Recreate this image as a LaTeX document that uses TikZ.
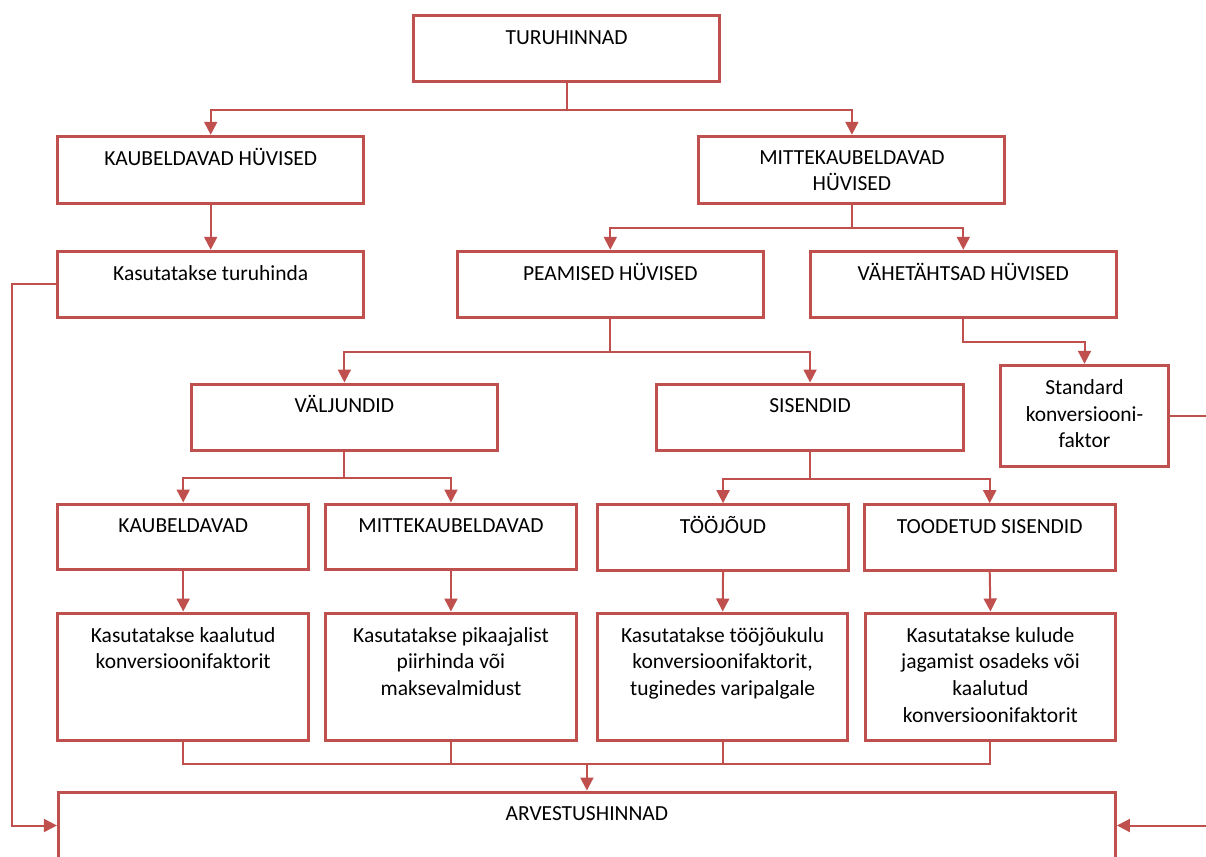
\documentclass[tikz,border=0pt]{standalone}
\usepackage{fontspec}
\setmainfont{Carlito}
\usetikzlibrary{arrows.meta}
\definecolor{boxred}{HTML}{C0504D}
\begin{document}
\begin{tikzpicture}[x=1pt,y=-1pt,
  box/.style={draw=boxred, line width=3pt, fill=white, inner sep=0pt, anchor=north west},
  txt/.style={anchor=north, yshift=-11.5pt, inner sep=0pt, align=center,
    font=\fontsize{21.5}{26.7}\selectfont, execute at begin node=\strut},
  txtm/.style={txt, yshift=-4pt},
  conn/.style={draw=boxred, line width=2pt},
  arr/.style={conn, -{Triangle[width=13pt,length=13pt]}}]
\useasboundingbox[fill=white] (0,0) rectangle (1206,856);

% boxes
\node[box, minimum width=306pt, minimum height=66pt] (tur) at (412.1,14.2) {};
\node[box, minimum width=306pt, minimum height=67pt] (kh) at (56.2,134.8) {};
\node[box, minimum width=306pt, minimum height=67pt] (mkh) at (697.4,134.8) {};
\node[box, minimum width=306pt, minimum height=66pt] (kt) at (56.2,249.8) {};
\node[box, minimum width=306pt, minimum height=66pt] (pea) at (455.8,249.8) {};
\node[box, minimum width=305.4pt, minimum height=66pt] (vah) at (809.1,249.8) {};
\node[box, minimum width=168.6pt, minimum height=100.7pt] (std) at (998.7,363.8) {};
\node[box, minimum width=306.2pt, minimum height=66.7pt] (val) at (189.8,382.5) {};
\node[box, minimum width=306.3pt, minimum height=66.7pt] (sis) at (655.4,382.5) {};
\node[box, minimum width=251pt, minimum height=65.3pt] (kau) at (56.2,502.5) {};
\node[box, minimum width=251.5pt, minimum height=65.3pt] (mit) at (323.7,502.5) {};
\node[box, minimum width=250.5pt, minimum height=65.3pt] (too) at (596.3,503.2) {};
\node[box, minimum width=250.6pt, minimum height=65.3pt] (tod) at (862.9,503.2) {};
\node[box, minimum width=251pt, minimum height=127.7pt] (l1) at (56.2,611.5) {};
\node[box, minimum width=251.5pt, minimum height=127.7pt] (l2) at (323.7,611.5) {};
\node[box, minimum width=249.7pt, minimum height=127.7pt] (l3) at (596.3,611.5) {};
\node[box, minimum width=250.5pt, minimum height=127.7pt] (l4) at (863.7,611.5) {};
\node[box, minimum width=1057pt, minimum height=67pt] (arv) at (56.9,790.5) {};

% texts
\node[txt] (turt) at (tur.north) {TURUHINNAD};
\node[txt] (kht) at (kh.north) {KAUBELDAVAD HÜVISED};
\node[txtm] (mkht) at (mkh.north) {MITTEKAUBELDAVAD\\HÜVISED};
\node[txt] (ktt) at (kt.north) {Kasutatakse turuhinda};
\node[txt] (peat) at (pea.north) {PEAMISED HÜVISED};
\node[txt] (vaht) at (vah.north) {VÄHETÄHTSAD HÜVISED};
\node[txtm] (stdt) at (std.north) {Standard\\konversiooni-\\faktor};
\node[txt] (valt) at (val.north) {VÄLJUNDID};
\node[txt] (sist) at (sis.north) {SISENDID};
\node[txt] (taut) at (kau.north) {KAUBELDAVAD};
\node[txt] (mitt) at (mit.north) {MITTEKAUBELDAVAD};
\node[txt] (toot) at (too.north) {TÖÖJÕUD};
\node[txt] (todt) at (tod.north) {TOODETUD SISENDID};
\node[txtm] (l1t) at (l1.north) {Kasutatakse kaalutud\\konversioonifaktorit};
\node[txtm] (l2t) at (l2.north) {Kasutatakse pikaajalist\\piirhinda või\\maksevalmidust};
\node[txtm] (l3t) at (l3.north) {Kasutatakse tööjõukulu\\konversioonifaktorit,\\tuginedes varipalgale};
\node[txtm] (l4t) at (l4.north) {Kasutatakse kulude\\jagamist osadeks või\\kaalutud\\konversioonifaktorit};
\node[txt] (arvt) at (arv.north) {ARVESTUSHINNAD};

% connectors
\draw[arr] (tur.south) -- ++(0,27.1) -| (kh.north);
\draw[arr] (tur.south) -- ++(0,27.1) -| (mkh.north);
\draw[arr] (kh.south) -- (kt.north);
\draw[arr] (mkh.south) -- ++(0,23.5) -| (pea.north);
\draw[arr] (mkh.south) -- ++(0,23.5) -| (vah.north);
\draw[arr] (pea.south) -- ++(0,33.2) -| (val.north);
\draw[arr] (pea.south) -- ++(0,33.2) -| (sis.north);
\draw[arr] (vah.south) -- ++(0,23.5) -| (std.north);
\draw[arr] (val.south) -- ++(0,25.8) -| (kau.north);
\draw[arr] (val.south) -- ++(0,25.8) -| (mit.north);
\draw[arr] (sis.south) -- ++(0,26.5) -| (too.north);
\draw[arr] (sis.south) -- ++(0,26.5) -| (tod.north);
\draw[arr] (kau.south) -- (l1.north);
\draw[arr] (mit.south) -- (l2.north);
\draw[arr] (too.south) -- (l3.north);
\draw[arr] (tod.south) -- (l4.north);
\coordinate (bus) at (0,764.3);
\draw[conn] (l1.south) -- (l1.south |- bus) -- (l4.south |- bus) -- (l4.south);
\draw[conn] (l2.south) -- (l2.south |- bus);
\draw[conn] (l3.south) -- (l3.south |- bus);
\draw[arr] (arv.north |- bus) -- (arv.north);
\coordinate (lft) at (11.8,0);
\draw[arr] (kt.west) -- (kt.west -| lft) |- (arv.west);
\coordinate (rgt) at (1216,0);
\draw[arr] (std.east) -- (std.east -| rgt) |- (arv.east);
\end{tikzpicture}
\end{document}
